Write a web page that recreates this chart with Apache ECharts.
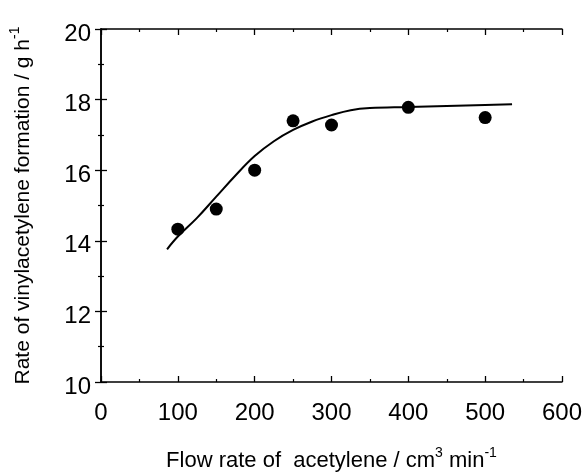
<!DOCTYPE html>
<html>
<head>
<meta charset="utf-8">
<script src="https://cdn.jsdelivr.net/npm/echarts@6/dist/echarts.min.js"></script>
<style>
  html, body { margin: 0; padding: 0; background: #fff; }
  #chart { width: 584px; height: 472px; }
</style>
</head>
<body>
<div id="chart"></div>
<script>
// measured points
const flowRate = [100, 150, 200, 250, 300, 400, 500];
const rateValues = [14.33, 14.9, 16.0, 17.4, 17.28, 17.78, 17.49];

// fitted curve
const curveX = [86, 100, 125, 150, 175, 200, 225, 250, 275, 300, 325, 350, 400, 450, 500, 535];
const curveY = [13.76, 14.12, 14.65, 15.25, 15.85, 16.4, 16.82, 17.14, 17.38, 17.56, 17.7, 17.76, 17.79, 17.82, 17.85, 17.87];

const font = 'Liberation Sans, Arial, Helvetica, sans-serif';

let chart = echarts.init(document.getElementById('chart'));

const frameAxis = {
  axisLine: { show: true, lineStyle: { color: '#000', width: 1.5 } },
  axisTick: { show: true, inside: true, length: 6, lineStyle: { color: '#000', width: 1.3 } },
  minorTick: { show: true, splitNumber: 2, length: 3, lineStyle: { color: '#000', width: 1.2 } },
  splitLine: { show: false },
  axisLabel: { show: false }
};

function titleRich(size) {
  return {
    t: { fontSize: size, fontFamily: font, color: '#000', lineHeight: 26, verticalAlign: 'bottom' },
    s: { fontSize: 14, fontFamily: font, color: '#000', verticalAlign: 'top', lineHeight: 26, padding: [0, 0, 9, 0] }
  };
}

chart.setOption({
  animation: false,
  grid: { left: 101, right: 22, top: 29, bottom: 90, outerBoundsMode: 'none', containLabel: false },
  xAxis: [
    Object.assign({}, frameAxis, {
      type: 'value', min: 0, max: 600, interval: 100, position: 'bottom',
      axisLabel: { show: true, color: '#000', fontSize: 24, fontFamily: font, margin: 19 },
      name: '{t|Flow rate of  acetylene / cm}{s|3}{t| min}{s|-1}',
      nameLocation: 'middle',
      nameGap: 64,
      nameTextStyle: { rich: titleRich(22) }
    }),
    Object.assign({}, frameAxis, {
      type: 'value', min: 0, max: 600, interval: 100, position: 'top'
    })
  ],
  yAxis: [
    Object.assign({}, frameAxis, {
      type: 'value', min: 10, max: 20, interval: 2, position: 'left',
      axisLabel: {
        show: true, margin: 10,
        formatter: '{v|{value}}',
        rich: { v: { color: '#000', fontSize: 24, fontFamily: font, lineHeight: 34, verticalAlign: 'bottom' } }
      },
      name: '{t|Rate of vinylacetylene formation / g h}{s|-1}',
      nameLocation: 'middle',
      nameGap: 67,
      nameRotate: 90,
      nameTextStyle: { rich: titleRich(21) }
    }),
    Object.assign({}, frameAxis, {
      type: 'value', min: 10, max: 20, interval: 2, position: 'right'
    })
  ],
  series: [
    {
      name: 'fit',
      type: 'line',
      smooth: 0.4,
      symbol: 'none',
      data: curveX.map((x, i) => [x, curveY[i]]),
      lineStyle: { color: '#000', width: 2 },
      z: 2
    },
    {
      name: 'rate',
      type: 'scatter',
      symbol: 'circle',
      symbolSize: 13,
      data: flowRate.map((x, i) => [x, rateValues[i]]),
      itemStyle: { color: '#000', opacity: 1 },
      z: 3
    }
  ]
});
</script>
</body>
</html>
